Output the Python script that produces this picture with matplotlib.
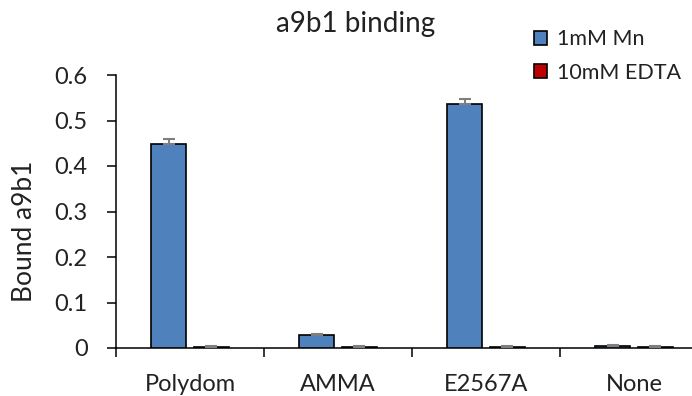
import matplotlib
matplotlib.use("Agg")
import matplotlib.pyplot as plt
import numpy as np

plt.rcParams["font.family"] = ["Lato", "DejaVu Sans"]

categories = ["Polydom", "AMMA", "E2567A", "None"]
mn_vals = [0.448, 0.028, 0.536, 0.004]
mn_err = [0.012, 0.002, 0.012, 0.002]
edta_vals = [0.003, 0.003, 0.003, 0.003]
edta_err = [0.001, 0.001, 0.001, 0.001]
series_names = ["1mM Mn", "10mM EDTA"]

fig = plt.figure(figsize=(6.92, 3.96), dpi=100)
ax = fig.add_axes([116 / 692, 1 - 348 / 396, 592 / 692, (348 - 75) / 396])

x = np.arange(len(categories)) + 0.5
w = 0.24
off = 0.145
kw = dict(edgecolor="black", linewidth=1.2, zorder=3)
ekw = dict(ecolor="#7f7f7f", elinewidth=1.5, capsize=4.5, capthick=1.5)
b1 = ax.bar(x - off, mn_vals, w, color="#4f81bd", label=series_names[0], **kw)
b2 = ax.bar(x + off, edta_vals, w, color="#c00000", label=series_names[1], **kw)
ax.errorbar(x - off, mn_vals, yerr=[[0] * 4, mn_err], fmt="none", zorder=4, **ekw)
ax.errorbar(x + off, edta_vals, yerr=[[0] * 4, edta_err], fmt="none", zorder=4, **ekw)

ax.set_xlim(0, 4)
ax.set_ylim(0, 0.6)
ax.set_yticks(np.arange(0, 0.61, 0.1))
ax.set_yticklabels(["0", "0.1", "0.2", "0.3", "0.4", "0.5", "0.6"])
ax.set_xticks([0, 1, 2, 3, 4])
ax.set_xticklabels([])
ax.set_xticks(x, minor=True)
ax.set_xticklabels(categories, minor=True)
ax.tick_params(axis="x", which="major", direction="out", length=6.5, width=1.1)
ax.tick_params(axis="x", which="minor", length=0, pad=19, labelsize=17, colors="#222222")
ax.tick_params(axis="y", direction="out", length=6.5, width=1.1, labelsize=17,
               colors="#222222", pad=14)
ax.tick_params(axis="both", color="black")
for s in ["top", "right"]:
    ax.spines[s].set_visible(False)
for s in ["left", "bottom"]:
    ax.spines[s].set_linewidth(1.1)

fig.text(356 / 692, 1 - 24 / 396, "a9b1 binding", ha="center", va="center",
         fontsize=20, color="#222222")
fig.text(25 / 692, 1 - 231 / 396, "Bound a9b1", ha="center", va="center",
         rotation=90, fontsize=19, color="#222222")

leg = fig.legend(handles=[b1, b2], loc="upper left", bbox_to_anchor=(0.744, 0.975),
                 frameon=False, fontsize=15.5, handlelength=0.6, handleheight=0.6,
                 handletextpad=0.45, labelspacing=0.62)
for t in leg.get_texts():
    t.set_color("#222222")

fig.savefig("out.png", dpi=100)
